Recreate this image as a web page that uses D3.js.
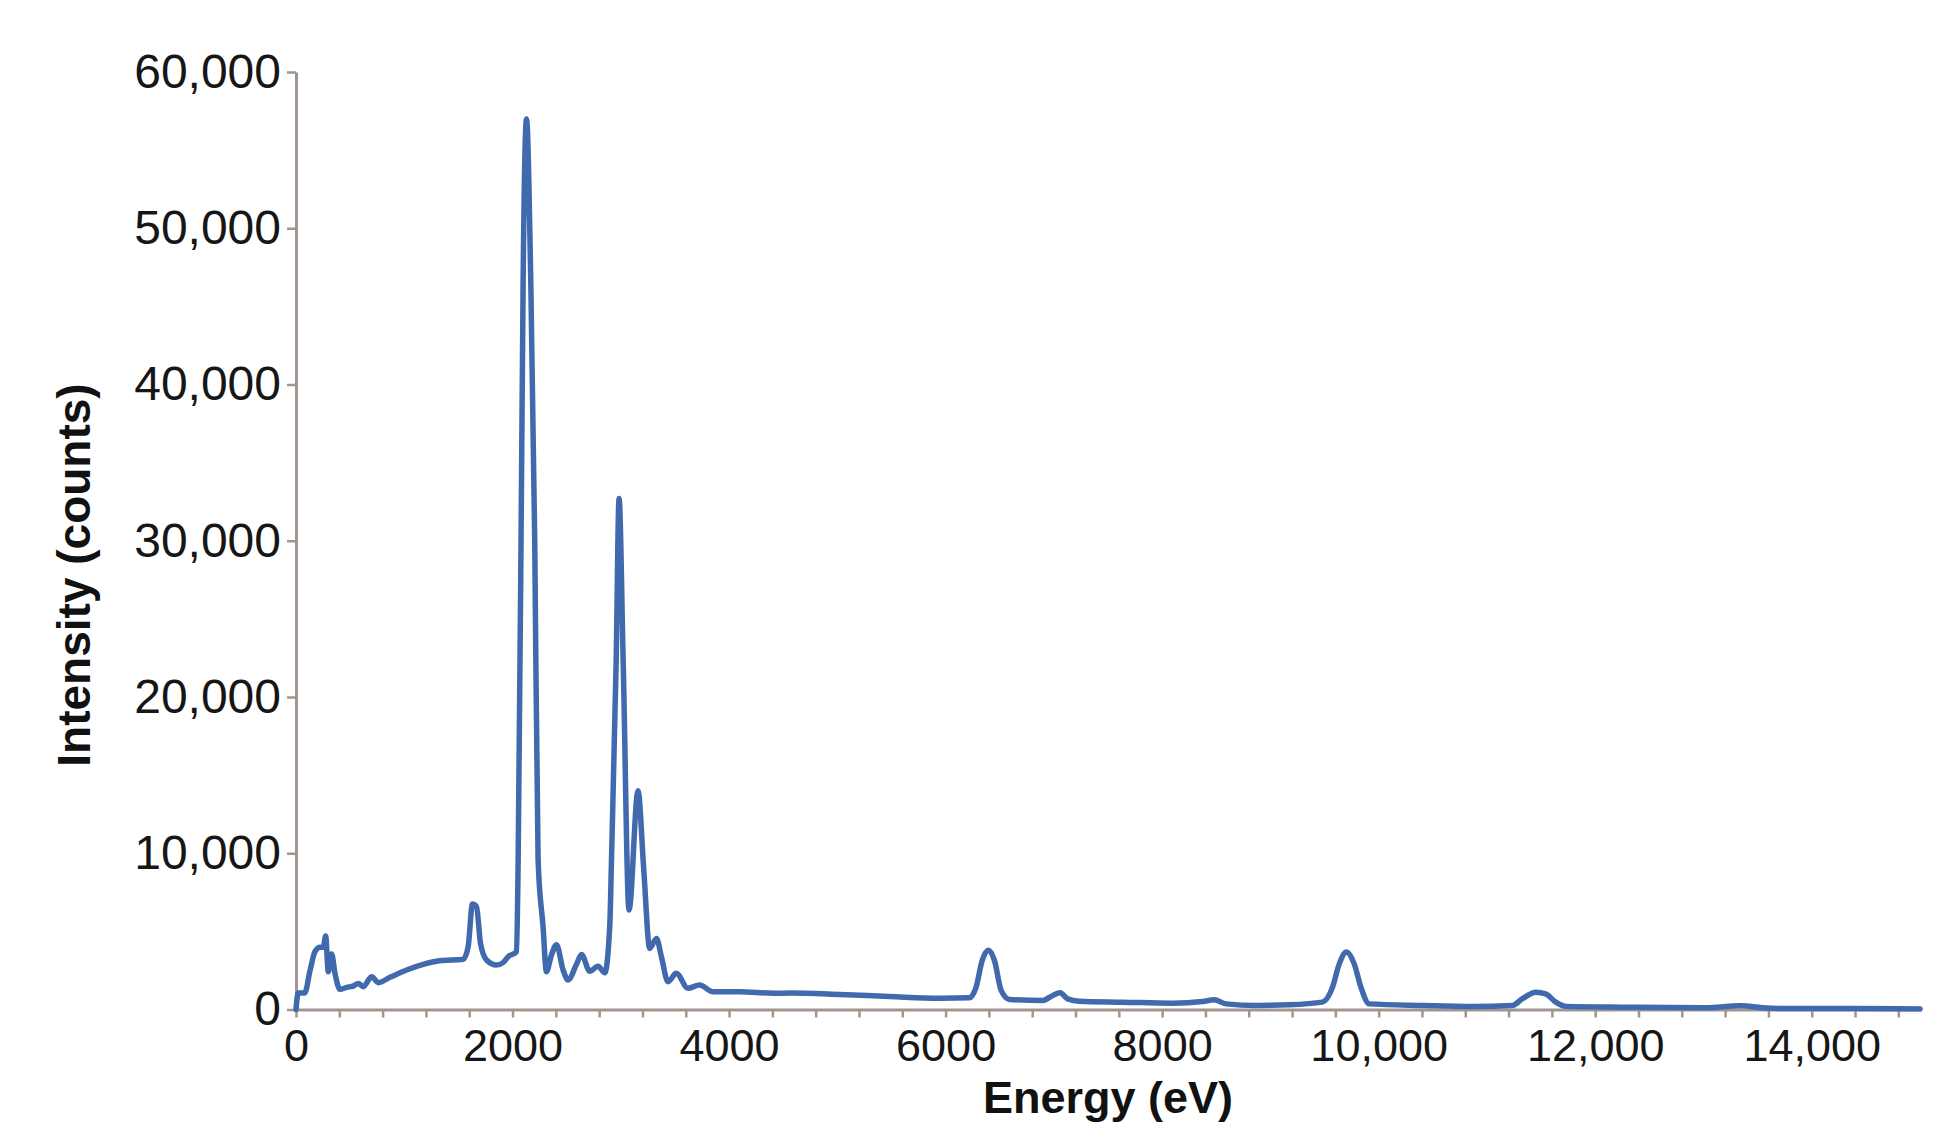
<!DOCTYPE html>
<html>
<head>
<meta charset="utf-8">
<script src="https://cdn.jsdelivr.net/npm/d3@7"></script>
<style>
  html, body { margin: 0; padding: 0; background: #fff; }
  svg { display: block; font-family: "Liberation Sans", Arial, sans-serif; }
  .axis path, .axis line { stroke: #a0958f; }
  .axis path { stroke-width: 3; }
  .axis line { stroke-width: 2.5; }
  .axis text { fill: #161616; }
</style>
</head>
<body>
<svg id="chart"></svg>
<script>
// XRF spectrum: energy (eV) vs intensity (counts)

const energy = [
  0, 20, 80, 130, 175, 222, 252, 274, 298, 329, 360, 406, 468, 529, 575, 621,
  699, 760, 868, 1021, 1175, 1329, 1544, 1590, 1630, 1667, 1704, 1760, 1852, 1913,
  1959, 2037, 2052, 2083, 2098, 2129, 2170, 2205, 2236, 2282, 2313, 2360, 2406, 2467,
  2513, 2590, 2637, 2713, 2790, 2852, 2898, 2914, 2957, 2984, 3022, 3076, 3159, 3212,
  3267, 3329, 3375, 3436, 3513, 3620, 3728, 3851, 4098, 4405, 4559, 5021, 5482, 5944,
  6221, 6282, 6338, 6396, 6451, 6513, 6590, 6897, 6990, 7057, 7127, 7236, 7636, 8097,
  8374, 8482, 8590, 8867, 9174, 9481, 9574, 9636, 9703, 9774, 9836, 9912, 10404, 10866,
  11235, 11328, 11451, 11543, 11636, 11728, 12250, 13020, 13343, 13543, 13789, 14400, 15000
];

const counts = [
  0, 1050, 1050, 2500, 3700, 3980, 3980, 4700, 2420, 3550, 2320, 1290, 1420, 1500, 1670, 1460,
  2100, 1720, 2060, 2530, 2890, 3120, 3210, 4020, 6750, 6580, 4240, 3170, 2850, 3000,
  3380, 3700, 9570, 33900, 46700, 57000, 46000, 30000, 9570, 5300, 2420, 3500, 4150, 2530,
  1890, 2880, 3520, 2450, 2770, 2350, 5330, 9570, 22250, 32700, 22250, 6370, 14000, 8950,
  3910, 4550, 3380, 1780, 2320, 1360, 1570, 1140, 1140, 1040, 1050, 960, 830, 720,
  750, 1430, 3140, 3800, 3140, 1220, 640, 580, 900, 1070, 680, 530, 470, 400,
  510, 620, 360, 260, 300, 470, 1430, 2920, 3680, 2920, 1430, 360, 260, 200,
  260, 690, 1110, 1000, 470, 200, 150, 110, 240, 110, 60, 60, 40
];

const yTicks = [0, 10000, 20000, 30000, 40000, 50000, 60000];
const xMinorStep = 400;
const xLabelStep = 2000;
const xTickLabels = ["0", "2000", "4000", "6000", "8000", "10,000", "12,000", "14,000"];

const W = 1946, H = 1142;
const margin = { top: 72, right: 26, bottom: 132.5, left: 296 };

const svg = d3.select("#chart").attr("width", W).attr("height", H);

const x = d3.scaleLinear().domain([0, 15000]).range([margin.left, W - margin.right]);
const y = d3.scaleLinear().domain([0, 60000]).range([H - margin.bottom, margin.top]);

const data = energy.map((e, i) => ({ e, c: counts[i] }));

// axes
const xTickVals = d3.range(0, 15000, xMinorStep);
svg.append("g")
  .attr("class", "axis x")
  .attr("transform", `translate(0,${y(0)})`)
  .call(d3.axisBottom(x)
    .tickValues(xTickVals)
    .tickSize(8)
    .tickSizeOuter(0)
    .tickPadding(12)
    .tickFormat((v) => (v % xLabelStep === 0 ? xTickLabels[v / xLabelStep] : "")))
  .call((g) => g.selectAll("text").attr("font-size", 45));

svg.append("g")
  .attr("class", "axis y")
  .attr("transform", `translate(${x(0)},0)`)
  .call(d3.axisLeft(y)
    .tickValues(yTicks)
    .tickSize(9)
    .tickSizeOuter(0)
    .tickPadding(6)
    .tickFormat(d3.format(",")))
  .call((g) => g.selectAll("text").attr("font-size", 48));

// spectrum line
const line = d3.line()
  .x((d) => x(d.e))
  .y((d) => y(d.c))
  .curve(d3.curveMonotoneX);

svg.append("path")
  .datum(data)
  .attr("fill", "none")
  .attr("stroke", "#4169ad")
  .attr("stroke-width", 5.5)
  .attr("stroke-linejoin", "round")
  .attr("stroke-linecap", "round")
  .attr("d", line);

// axis titles
svg.append("text")
  .attr("x", (x(0) + x(15000)) / 2)
  .attr("y", 1113)
  .attr("text-anchor", "middle")
  .attr("font-size", 45)
  .attr("font-weight", "bold")
  .attr("fill", "#111")
  .text("Energy (eV)");

svg.append("text")
  .attr("transform", "translate(90,575) rotate(-90)")
  .attr("text-anchor", "middle")
  .attr("font-size", 46)
  .attr("font-weight", "bold")
  .attr("fill", "#111")
  .text("Intensity (counts)");
</script>
</body>
</html>
